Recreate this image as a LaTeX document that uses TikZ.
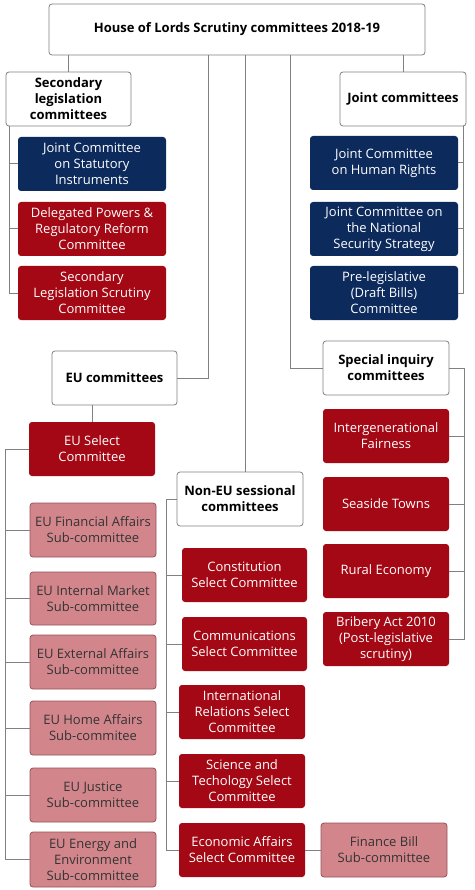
\documentclass[tikz,border=0pt]{standalone}
\usepackage{fontspec}
\setmainfont{Open Sans}
\definecolor{navy}{RGB}{12,42,92}
\definecolor{crim}{RGB}{163,8,20}
\definecolor{pinkb}{RGB}{210,134,140}
\definecolor{pinkd}{RGB}{150,82,88}
\definecolor{linec}{RGB}{128,128,128}
\newcommand\mkbox[7]{\node[#1, minimum width={(#5-#3)*1pt}, minimum height={(#6-#4)*1pt}] (#2) at ({(#3+#5)/2},{(#4+#6)/2}) {#7};}
\begin{document}
\begin{tikzpicture}[x=1pt,y=-1pt,
 base/.style={rounded corners=3pt, align=center, inner sep=0pt, font=\fontsize{13}{16}\selectfont},
 head/.style={base, draw=linec, line width=0.8pt, fill=white, font=\fontsize{13}{16}\selectfont\bfseries},
 nbox/.style={base, fill=navy, text=white},
 rbox/.style={base, fill=crim, text=white},
 pbox/.style={base, fill=pinkb, draw=pinkd, line width=0.8pt, text=black!80},
 conn/.style={draw=linec, line width=1pt}]
\useasboundingbox[fill=white] (0,0) rectangle (474,890);
% headers
\mkbox{head}{top}{49}{4}{425}{55}{House of Lords Scrutiny committees 2018-19}
\mkbox{head}{sec}{6}{72}{131}{126}{Secondary\\legislation\\committees}
\mkbox{head}{joint}{340}{72}{466}{126}{Joint committees}
\mkbox{head}{eu}{52}{351}{177}{405}{EU committees}
\mkbox{head}{noneu}{177}{472}{303}{526}{Non-EU sessional\\committees}
\mkbox{head}{spec}{323}{341}{449}{395}{Special inquiry\\committees}
% secondary legislation
\mkbox{nbox}{jcsi}{18}{137}{166}{191}{Joint Committee\\on Statutory\\Instruments}
\mkbox{rbox}{dprr}{18}{202}{166}{256}{Delegated Powers \&\\Regulatory Reform\\Committee}
\mkbox{rbox}{slsc}{18}{266}{166}{320}{Secondary\\Legislation Scrutiny\\Committee}
% joint
\mkbox{nbox}{jchr}{310}{136}{458}{190}{Joint Committee\\on Human Rights}
\mkbox{nbox}{jcns}{310}{202}{458}{256}{Joint Committee on\\the National\\Security Strategy}
\mkbox{nbox}{prel}{310}{266}{458}{320}{Pre-legislative\\(Draft Bills)\\Committee}
% EU
\mkbox{rbox}{eusel}{29}{422}{155}{476}{EU Select\\Committee}
\mkbox{pbox}{eufin}{30}{503}{156}{557}{EU Financial Affairs\\Sub-committee}
\mkbox{pbox}{euint}{30}{572}{156}{625}{EU Internal Market\\Sub-committee}
\mkbox{pbox}{euext}{30}{635}{156}{689}{EU External Affairs\\Sub-committee}
\mkbox{pbox}{euhome}{30}{701}{156}{755}{EU Home Affairs\\Sub-commitee}
\mkbox{pbox}{eujus}{30}{768}{156}{822}{EU Justice\\Sub-committee}
\mkbox{pbox}{euen}{30}{832}{156}{887}{EU Energy and\\Environment\\Sub-committee}
% non-EU
\mkbox{rbox}{cons}{182}{548}{307}{602}{Constitution\\Select Committee}
\mkbox{rbox}{comm}{182}{617}{307}{671}{Communications\\Select Committee}
\mkbox{rbox}{intr}{179}{685}{305}{739}{International\\Relations Select\\Committee}
\mkbox{rbox}{scit}{179}{754}{305}{808}{Science and\\Techology Select\\Committee}
\mkbox{rbox}{econ}{179}{823}{305}{877}{Economic Affairs\\Select Committee}
\mkbox{pbox}{finb}{321}{823}{447}{877}{Finance Bill\\Sub-committee}
% special inquiry
\mkbox{rbox}{intg}{323}{409}{449}{463}{Intergenerational\\Fairness}
\mkbox{rbox}{seas}{323}{477}{449}{531}{Seaside Towns}
\mkbox{rbox}{rure}{323}{544}{449}{598}{Rural Economy}
\mkbox{rbox}{brib}{323}{612}{449}{666}{Bribery Act 2010\\(Post-legislative\\scrutiny)}
% spine coordinates
\coordinate (sx) at (9,0);
\coordinate (jx) at (463,0);
\coordinate (ex) at (5,0);
\coordinate (nx) at (166,0);
\coordinate (px) at (464,0);
\coordinate (t1) at (208,0);
\coordinate (t2) at (245,0);
\coordinate (t3) at (290,0);
% connectors from top
\draw[conn] (sec.north) -- (sec.north |- top.south);
\draw[conn] (joint.north) -- (joint.north |- top.south);
\draw[conn] (top.south -| t1) |- (eu.east);
\draw[conn] (top.south -| t2) -- (noneu.north -| t2);
\draw[conn] (top.south -| t3) |- (spec.west);
% secondary
\draw[conn] (sec.south -| sx) |- (slsc.west);
\draw[conn] (jcsi.west) -- (jcsi.west -| sx);
\draw[conn] (dprr.west) -- (dprr.west -| sx);
% joint
\draw[conn] (joint.south -| jx) |- (prel.east);
\draw[conn] (jchr.east) -- (jchr.east -| jx);
\draw[conn] (jcns.east) -- (jcns.east -| jx);
% EU
\draw[conn] (eusel.north) -- (eusel.north |- eu.south);
\draw[conn] (eusel.west) -- (eusel.west -| ex) -- (euen.west -| ex) -- (euen.west);
\foreach \b in {eufin,euint,euext,euhome,eujus}
  \draw[conn] (\b.west) -- (\b.west -| ex);
% non-EU
\draw[conn] (noneu.west) -- (noneu.west -| nx) -- (econ.west -| nx) -- (econ.west);
\foreach \b in {cons,comm,intr,scit}
  \draw[conn] (\b.west) -- (\b.west -| nx);
\draw[conn] (econ.east) -- (finb.west);
% special inquiry
\draw[conn] (spec.east) -- (spec.east -| px) -- (brib.east -| px) -- (brib.east);
\foreach \b in {intg,seas,rure}
  \draw[conn] (\b.east) -- (\b.east -| px);
\end{tikzpicture}
\end{document}
